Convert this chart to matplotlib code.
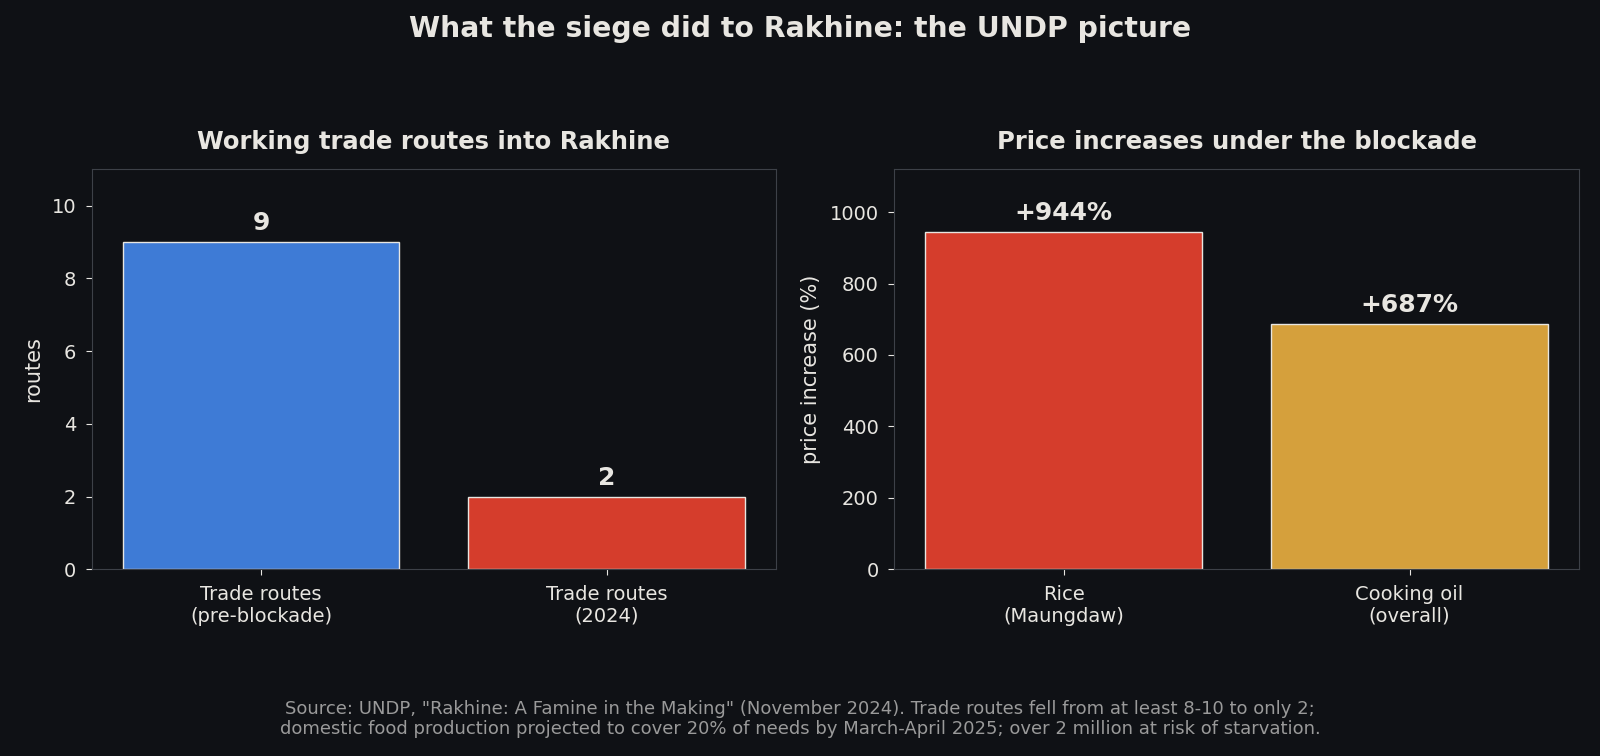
import numpy as np
import matplotlib
matplotlib.use("Agg")
import matplotlib.pyplot as plt

# data
route_labels = ["Trade routes\n(pre-blockade)", "Trade routes\n(2024)"]
route_values = [9, 2]
route_colors = ["#3E7BD6", "#D53D2C"]

price_labels = ["Rice\n(Maungdaw)", "Cooking oil\n(overall)"]
price_values = [944, 687]
price_colors = ["#D53D2C", "#D5A03C"]

BG = "#0F1115"
FG = "#E8E6E1"
SPINE = "#3D4148"

plt.rcParams.update({
    "font.family": "DejaVu Sans",
    "text.color": FG,
    "axes.labelcolor": FG,
    "xtick.color": FG,
    "ytick.color": FG,
})

fig = plt.figure(figsize=(16, 7.56), dpi=100, facecolor=BG)
ax1 = fig.add_axes([0.0573, 0.247, 0.4277, 0.5291])
ax2 = fig.add_axes([0.5588, 0.247, 0.4281, 0.5291])


def draw_panel(ax, labels, values, colors, title, ylabel, ymax, fmt):
    ax.set_facecolor(BG)
    x = np.arange(len(values))
    bars = ax.bar(x, values, width=0.8, color=colors, edgecolor=FG, linewidth=1.0)
    for b, v in zip(bars, values):
        ax.annotate(fmt(v), (b.get_x() + b.get_width() / 2, b.get_height()),
                    xytext=(0, 5), textcoords="offset points",
                    ha="center", va="bottom", fontsize=18, fontweight="bold", color=FG)
    ax.set_xticks(x)
    ax.set_xticklabels(labels, fontsize=14)
    ax.tick_params(axis="y", labelsize=14)
    ax.tick_params(axis="both", length=4.5, pad=6.5)
    ax.set_ylim(0, ymax)
    ax.set_ylabel(ylabel, fontsize=15, labelpad=6)
    ax.set_title(title, fontsize=17.5, fontweight="bold", pad=14.5)
    for s in ax.spines.values():
        s.set_color(SPINE)


draw_panel(ax1, route_labels, route_values, route_colors,
           "Working trade routes into Rakhine", "routes", 11, lambda v: f"{v}")
draw_panel(ax2, price_labels, price_values, price_colors,
           "Price increases under the blockade", "price increase (%)", 1120,
           lambda v: f"+{v}%")

fig.suptitle("What the siege did to Rakhine: the UNDP picture",
             fontsize=20.3, fontweight="bold", color=FG, y=0.98)

fig.text(0.5, 0.049,
         "Source: UNDP, \"Rakhine: A Famine in the Making\" (November 2024). "
         "Trade routes fell from at least 8-10 to only 2;\n"
         "domestic food production projected to cover 20% of needs by "
         "March-April 2025; over 2 million at risk of starvation.",
         ha="center", va="center", fontsize=13, color="#9A9A9A")

fig.savefig("out.png", dpi=100, facecolor=BG)
